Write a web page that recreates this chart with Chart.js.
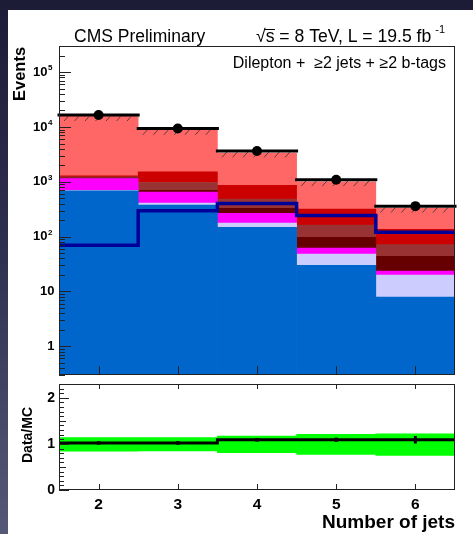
<!DOCTYPE html>
<html>
<head>
<meta charset="utf-8">
<title>Jet multiplicity, dilepton + 2 b-tags</title>
<script src="https://cdn.jsdelivr.net/npm/chart.js@4.4.1/dist/chart.umd.min.js"></script>
<style>
  html, body { margin: 0; padding: 0; }
  body {
    width: 473px; height: 534px; overflow: hidden; position: relative;
    background: linear-gradient(180deg, #1d1c37 0%, #2e2e4e 45%, #555977 100%);
  }
  #sheet { position: absolute; left: 8px; top: 10px; right: 0; bottom: 0; background: #fff; }
  canvas { position: absolute; left: 0; }
  #main { top: 0; }
  #ratio { top: 380px; }
</style>
</head>
<body>
<div id="sheet"></div>
<canvas id="main" width="473" height="380"></canvas>
<canvas id="ratio" width="473" height="154"></canvas>
<script>
// ---- yields per jet-multiplicity bin ----
const jetBins = [2, 3, 4, 5, 6];

// stacked backgrounds, bottom to top
const ewk       = [686, 376, 148, 30, 7.9];
const ttV       = [14, 34, 29, 18, 12];
const singleTop = [448, 243, 89, 14, 3.7];
const ttbb      = [22, 50, 61, 35, 20];
const ttb       = [60, 268, 156, 65, 28];
const ttcc      = [56, 549, 384, 156, 65];
const ttlf      = [14890, 7700, 2480, 680, 193];

const dataYield = [16500, 9400, 3650, 1090, 360];
const ttHSignal = [70, 297, 403, 244, 120];

// data / MC ratio panel
const ratio    = [1.02, 1.02, 1.09, 1.09, 1.09];
const ratioErr = [0.02, 0.02, 0.04, 0.05, 0.08];
const bandLow  = [0.84, 0.85, 0.81, 0.77, 0.75];
const bandHigh = [1.14, 1.14, 1.17, 1.21, 1.22];

// axis ticks
const eventsExponents = [0, 1, 2, 3, 4, 5];
const ratioTickValues = [0, 1, 2];

const EVENTS_MIN = 0.3, EVENTS_MAX = 3e5;
const RATIO_MIN = 0, RATIO_MAX = 2.3;

const FONT = "'Liberation Sans', Arial, Helvetica, sans-serif";
const binEdges = jetBins.map(j => j - 0.5).concat(jetBins[jetBins.length - 1] + 0.5);
const stepPoints = vals => binEdges.map((e, i) => ({ x: e, y: vals[Math.min(i, vals.length - 1)] }));

const layers = [
  { label: 'EWK',      values: ewk,       color: '#0066cc' },
  { label: 'tt+V',     values: ttV,       color: '#ccccff' },
  { label: 'single t', values: singleTop, color: '#ff00ff' },
  { label: 'tt+bb',    values: ttbb,      color: '#660000' },
  { label: 'tt+b',     values: ttb,       color: '#993333' },
  { label: 'tt+cc',    values: ttcc,      color: '#cc0000' },
  { label: 'tt+lf',    values: ttlf,      color: '#ff6666' },
];

// build the stack as floating bars [running sum, running sum + layer]
let running = jetBins.map(() => 0);
const stackDatasets = layers.map(layer => {
  const data = jetBins.map((j, i) => ({
    x: j,
    y: [Math.max(running[i], EVENTS_MIN), running[i] + layer.values[i]]
  }));
  running = running.map((s, i) => s + layer.values[i]);
  return {
    type: 'bar', label: layer.label, data,
    backgroundColor: layer.color, borderWidth: 0, borderSkipped: false,
    barPercentage: 1, categoryPercentage: 1, grouped: false, order: 2
  };
});
const SIGNAL_INDEX = stackDatasets.length;

// x axis: one tick per bin centre, so each bar fills its whole bin
const binScale = {
  type: 'linear', display: false, offset: false,
  min: binEdges[0], max: binEdges[binEdges.length - 1],
  afterBuildTicks: scale => { scale.ticks = jetBins.map(v => ({ value: v })); }
};

function strokeFrame(ctx, a) {
  ctx.strokeStyle = '#222';
  ctx.lineWidth = 1;
  ctx.strokeRect(a.left + 0.5, a.top + 0.5, a.right - a.left - 1, a.bottom - a.top - 1);
}

const mainDecor = {
  id: 'mainDecor',
  beforeDatasetDraw(chart, args) {
    if (args.index !== SIGNAL_INDEX) return;
    const { ctx, scales: { x, y } } = chart;
    ctx.save();
    jetBins.forEach((j, i) => {
      const xl = x.getPixelForValue(j - 0.5), xr = x.getPixelForValue(j + 0.5);
      const yv = y.getPixelForValue(dataYield[i]);
      // MC uncertainty hatching
      ctx.beginPath();
      ctx.strokeStyle = '#333';
      ctx.lineWidth = 0.8;
      for (let hx = xl + 5; hx < xr - 3; hx += 10.5) {
        ctx.moveTo(hx, yv + 6);
        ctx.lineTo(hx + 4, yv + 1.5);
      }
      ctx.stroke();
      // data bin-width bar
      ctx.beginPath();
      ctx.strokeStyle = '#000';
      ctx.lineWidth = 3;
      ctx.lineCap = 'square';
      ctx.moveTo(xl, yv);
      ctx.lineTo(xr, yv);
      ctx.stroke();
    });
    ctx.restore();
  },
  afterDraw(chart) {
    const { ctx, chartArea: a, scales: { x, y } } = chart;
    ctx.save();
    strokeFrame(ctx, a);

    // log ticks on the left axis, bin ticks on the bottom
    ctx.beginPath();
    ctx.strokeStyle = '#222';
    ctx.lineWidth = 1;
    for (let e = -1; e <= 5; e++) {
      for (let m = 1; m <= 9; m++) {
        const v = m * Math.pow(10, e);
        if (v < EVENTS_MIN || v > EVENTS_MAX) continue;
        const py = Math.round(y.getPixelForValue(v)) + 0.5;
        ctx.moveTo(a.left, py);
        ctx.lineTo(a.left + (m === 1 ? 12 : 6), py);
      }
    }
    jetBins.forEach(j => {
      const px = Math.round(x.getPixelForValue(j)) + 0.5;
      ctx.moveTo(px, a.bottom);
      ctx.lineTo(px, a.bottom - 9);
    });
    ctx.stroke();

    // tick labels
    ctx.fillStyle = '#000';
    ctx.textBaseline = 'middle';
    eventsExponents.forEach(n => {
      const py = y.getPixelForValue(Math.pow(10, n));
      ctx.font = `bold 13px ${FONT}`;
      ctx.textAlign = 'right';
      if (n < 2) {
        ctx.fillText(n === 0 ? '1' : '10', 54.5, py);
      } else {
        ctx.fillText('10', 47.5, py);
        ctx.font = `bold 8px ${FONT}`;
        ctx.textAlign = 'left';
        ctx.fillText(String(n), 48, py - 4);
      }
    });

    // axis title
    ctx.save();
    ctx.translate(25, 74);
    ctx.rotate(-Math.PI / 2);
    ctx.font = `bold 16.5px ${FONT}`;
    ctx.textAlign = 'center';
    ctx.textBaseline = 'alphabetic';
    ctx.fillText('Events', 0, 0);
    ctx.restore();

    // header
    ctx.textBaseline = 'alphabetic';
    ctx.textAlign = 'left';
    ctx.font = `17.5px ${FONT}`;
    ctx.fillText('CMS Preliminary', 74, 42);

    const lumi = '\u221As = 8 TeV, L = 19.5 fb';
    const lx = 256;
    ctx.font = `17.6px ${FONT}`;
    ctx.fillText(lumi, lx, 42);
    const wRad = ctx.measureText('\u221A').width;
    const wS = ctx.measureText('s').width;
    ctx.beginPath();
    ctx.lineWidth = 1;
    ctx.strokeStyle = '#000';
    ctx.moveTo(lx + wRad - 1, 29.5);
    ctx.lineTo(lx + wRad + wS + 0.5, 29.5);
    ctx.stroke();
    const wL = ctx.measureText(lumi).width;
    ctx.font = `11px ${FONT}`;
    ctx.fillText('-1', lx + wL + 4, 33);

    ctx.font = `16px ${FONT}`;
    ctx.textAlign = 'right';
    ctx.fillText('Dilepton +  \u22652 jets + \u22652 b-tags', 446, 68);
    ctx.restore();
  }
};

new Chart(document.getElementById('main'), {
  type: 'bar',
  data: {
    datasets: [
      ...stackDatasets,
      {
        type: 'line', label: 'ttH', data: stepPoints(ttHSignal), stepped: 'before',
        borderColor: '#000099', borderWidth: 3.5, pointRadius: 0, fill: false, order: 1
      },
      {
        type: 'line', label: 'Data', data: jetBins.map((j, i) => ({ x: j, y: dataYield[i] })),
        showLine: false, pointRadius: 5, pointBackgroundColor: '#000', pointBorderWidth: 0,
        order: 0, clip: false
      }
    ]
  },
  options: {
    responsive: false, animation: false, events: [],
    layout: { padding: { left: 59, right: 18, top: 46, bottom: 1 } },
    plugins: { legend: { display: false }, tooltip: { enabled: false } },
    scales: {
      x: binScale,
      y: { type: 'logarithmic', display: false, min: EVENTS_MIN, max: EVENTS_MAX }
    }
  },
  plugins: [mainDecor]
});

const ratioDecor = {
  id: 'ratioDecor',
  afterDatasetsDraw(chart) {
    const { ctx, scales: { x, y } } = chart;
    ctx.save();
    ctx.strokeStyle = '#000';
    ctx.lineWidth = 3;
    ctx.beginPath();
    jetBins.forEach((j, i) => {
      const px = x.getPixelForValue(j);
      ctx.moveTo(px, y.getPixelForValue(ratio[i] - ratioErr[i]));
      ctx.lineTo(px, y.getPixelForValue(ratio[i] + ratioErr[i]));
    });
    ctx.stroke();
    ctx.restore();
  },
  afterDraw(chart) {
    const { ctx, chartArea: a, scales: { x, y } } = chart;
    ctx.save();
    strokeFrame(ctx, a);
    ctx.beginPath();
    ctx.strokeStyle = '#222';
    ctx.lineWidth = 1;
    for (let k = 0; k <= 23; k++) {
      const v = k / 10;
      const py = Math.round(y.getPixelForValue(v)) + 0.5;
      const len = k % 10 === 0 ? 10 : (k % 5 === 0 ? 7 : 5);
      ctx.moveTo(a.left, py);
      ctx.lineTo(a.left + len, py);
    }
    jetBins.forEach(j => {
      const px = Math.round(x.getPixelForValue(j)) + 0.5;
      ctx.moveTo(px, a.bottom);
      ctx.lineTo(px, a.bottom - 6);
      ctx.moveTo(px, a.top);
      ctx.lineTo(px, a.top + 5);
    });
    ctx.stroke();

    ctx.fillStyle = '#000';
    ctx.font = `bold 14px ${FONT}`;
    ctx.textAlign = 'right';
    ctx.textBaseline = 'middle';
    ratioTickValues.forEach(v => ctx.fillText(String(v), 55, y.getPixelForValue(v)));

    ctx.font = `bold 15.5px ${FONT}`;
    ctx.textAlign = 'center';
    ctx.textBaseline = 'alphabetic';
    jetBins.forEach(j => ctx.fillText(String(j), x.getPixelForValue(j), 129));

    ctx.font = `bold 19px ${FONT}`;
    ctx.textAlign = 'right';
    ctx.fillText('Number of jets', 455, 148);

    ctx.save();
    ctx.translate(32, 55);
    ctx.rotate(-Math.PI / 2);
    ctx.font = `bold 14px ${FONT}`;
    ctx.textAlign = 'center';
    ctx.fillText('Data/MC', 0, 0);
    ctx.restore();
    ctx.restore();
  }
};

new Chart(document.getElementById('ratio'), {
  type: 'bar',
  data: {
    datasets: [
      {
        type: 'bar', label: 'MC uncertainty',
        data: jetBins.map((j, i) => ({ x: j, y: [bandLow[i], bandHigh[i]] })),
        backgroundColor: '#00ff00', borderWidth: 0, borderSkipped: false,
        barPercentage: 1, categoryPercentage: 1, grouped: false, order: 2
      },
      {
        type: 'line', label: 'Data/MC', data: stepPoints(ratio), stepped: 'before',
        borderColor: '#000', borderWidth: 3, pointRadius: 0, fill: false, order: 1
      },
      {
        type: 'line', label: 'Data/MC points', data: jetBins.map((j, i) => ({ x: j, y: ratio[i] })),
        showLine: false, pointStyle: 'rect', pointRadius: 2.5,
        pointBackgroundColor: '#000', pointBorderWidth: 0, order: 0
      }
    ]
  },
  options: {
    responsive: false, animation: false, events: [],
    layout: { padding: { left: 59, right: 18, top: 0, bottom: 44 } },
    plugins: { legend: { display: false }, tooltip: { enabled: false } },
    scales: {
      x: binScale,
      y: { type: 'linear', display: false, min: RATIO_MIN, max: RATIO_MAX }
    }
  },
  plugins: [ratioDecor]
});
</script>
</body>
</html>
